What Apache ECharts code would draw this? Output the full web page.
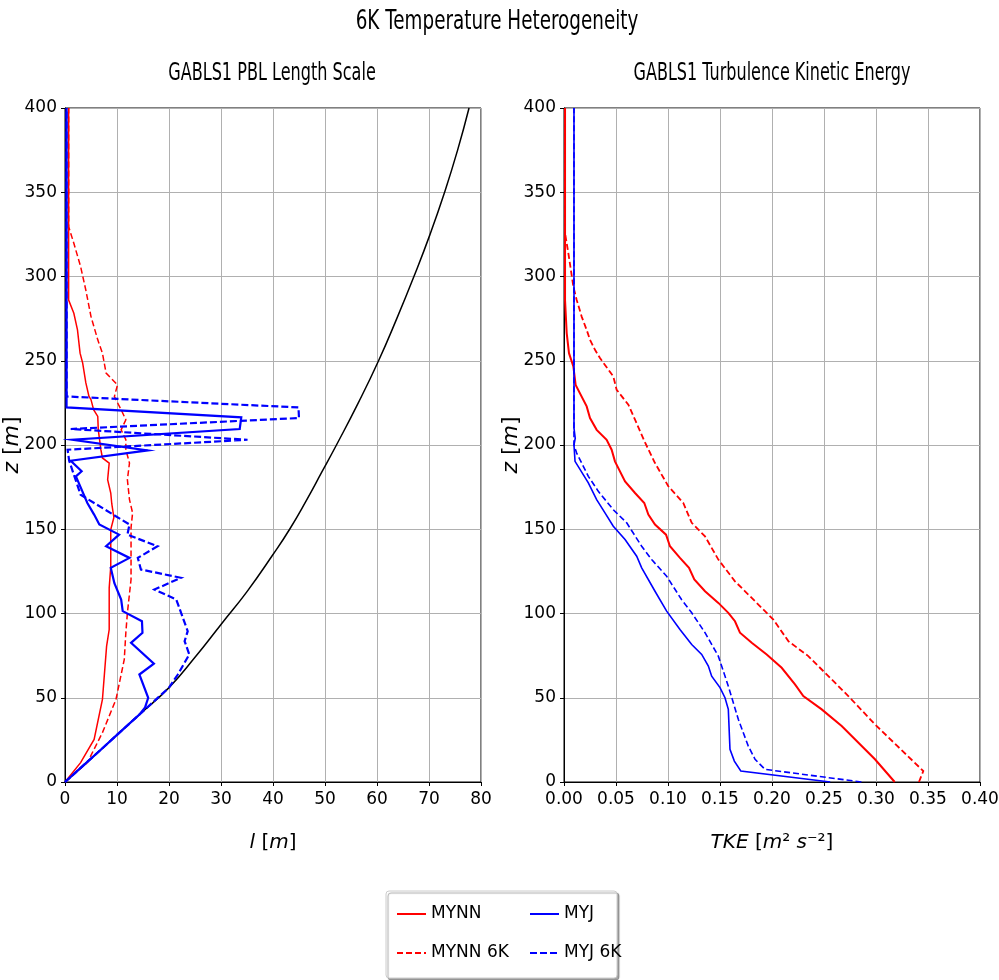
<!DOCTYPE html>
<html>
<head>
<meta charset="utf-8">
<script src="https://cdn.jsdelivr.net/npm/echarts@6/dist/echarts.min.js"></script>
<style>
html,body{margin:0;padding:0;background:#fff;overflow:hidden;}
#chart{width:999px;height:980px;}
</style>
</head>
<body>
<div id="chart"></div>
<script>
// ---------------- DATA ----------------
// Tick labels
const zTicks = [0, 50, 100, 150, 200, 250, 300, 350, 400];
const lTicks = [0, 10, 20, 30, 40, 50, 60, 70, 80];
const tkeTicks = [0.00, 0.05, 0.10, 0.15, 0.20, 0.25, 0.30, 0.35, 0.40];
const seriesNames = ['MYNN', 'MYNN 6K', 'MYJ', 'MYJ 6K'];

// Left panel: PBL length scale [l (m), z (m)]
const lenMYNN = [[0,0],[3.0,11.5],[5.6,25.3],[7.2,49],[8.0,80.6],[8.5,90.5],[8.5,115.2],[8.8,128],[8.8,141.9],[8.8,149.8],[9.4,157],[9.0,165],[8.8,171.5],[8.2,179.4],[8.5,189.3],[7.2,192.3],[6.9,197.2],[6.4,209],[6.3,217],[5.5,221],[5.0,226.9],[4.6,229],[4.0,237],[3.4,248.6],[2.9,254.5],[2.4,268.3],[1.7,278.2],[0.7,286],[0.7,400]];
const lenMYNN6K = [[0,0],[4.3,11.5],[7.2,29.3],[9.8,49],[11.4,72.7],[11.7,88.6],[12.0,100.4],[12.7,120.2],[12.7,141.9],[12.7,151],[13.0,159.7],[12.4,167.6],[12.0,179.4],[12.4,189.3],[11.7,197.2],[11.7,203.1],[10.8,209],[11.7,215],[10.8,220.9],[9.8,226.9],[9.5,228.8],[10.1,235.7],[7.9,242.7],[7.2,254.5],[6.3,262.4],[5.0,276.2],[4.0,292],[3.0,305.9],[1.7,319.7],[0.7,329.6],[0.7,400]];
const lenMYJ = [[0,0],[3.6,10],[7.2,20],[10,28],[14.3,40],[15.4,44.3],[16.0,50],[14.3,63.8],[17.1,70.2],[12.7,82.6],[14.9,88.6],[14.8,95.4],[11.1,101.4],[10.8,108.3],[9.5,118],[8.8,127.1],[12.4,133],[7.9,139.9],[10.4,146.8],[6.6,152.8],[5.6,158.7],[4.3,165.6],[2.1,181.4],[3.2,184.4],[1.1,190.7],[15.9,196.8],[1.5,203.1],[33.6,209.5],[33.9,216.4],[0.3,222.3],[0.3,400]];
const lenMYJ6K = [[0,0],[3.6,10],[7.2,20],[10,28],[14.3,40],[20,56],[21.7,63.8],[23.9,75.7],[23.0,83.6],[23.6,89.5],[21.4,108.3],[17.2,114.2],[22.3,121.2],[14.6,126.1],[14.0,133],[17.8,139.9],[12.0,146.8],[12.4,152.8],[3.0,170.5],[0.8,190.7],[0.5,197.2],[35.1,203.1],[1.1,209.5],[45.0,216],[44.9,222.3],[0.3,228.8],[0.3,400]];
const lenRef = [[0,0],[3.6,10],[7.2,20],[10,28],[14.3,40],[20,56],[25,74],[30,93.5],[35,113],[40,135],[43.2,150],[46.4,167],[49.4,184],[52.2,200],[56.4,225],[60.3,250],[63.8,275],[67.1,300],[70.2,325],[73.0,350],[75.5,375],[77.7,400]];

// Right panel: TKE [TKE (m2 s-2), z (m)]
const tkeMYNN = [[0.318,0],[0.299,13.5],[0.267,33.2],[0.2478,43.1],[0.2301,51],[0.2221,57.9],[0.2093,67.8],[0.1949,75.7],[0.1805,82.6],[0.1692,88.6],[0.1644,95.4],[0.158,100.4],[0.1484,106.3],[0.1356,113.2],[0.1253,120.2],[0.1202,127.1],[0.1115,133],[0.1019,139.9],[0.0981,146.8],[0.0875,152.8],[0.0811,158.7],[0.0772,165.6],[0.0683,171.5],[0.0587,178.4],[0.049,190.3],[0.0458,197.2],[0.041,203.1],[0.0314,209],[0.025,216],[0.0218,222.9],[0.0112,235.7],[0.009,246.6],[0.0048,254.5],[0.0026,266.4],[0.001,286],[0.001,400]];
const tkeMYNN6K = [[0.3413,0],[0.3455,6.5],[0.299,34.2],[0.2734,51],[0.251,64.8],[0.2349,74.7],[0.2157,83.6],[0.2013,96.4],[0.1837,107.3],[0.1644,119.1],[0.1484,132],[0.1356,145.8],[0.1228,153.8],[0.1147,165.6],[0.1003,175.5],[0.0875,189.3],[0.0779,201.5],[0.0683,215],[0.0619,223.9],[0.0506,232.8],[0.0474,240.7],[0.0346,251.6],[0.0298,256.5],[0.025,262.4],[0.0218,268.3],[0.017,276.2],[0.0122,286.1],[0.009,294],[0.0042,313.8],[0.001,325.7],[0.001,400]];
const tkeMYJ = [[0.256,0],[0.17,6.5],[0.1638,12.4],[0.1596,19.4],[0.158,43.1],[0.1548,50],[0.15,56],[0.142,62.8],[0.1388,68.8],[0.1324,75.7],[0.1228,81.6],[0.1115,90.5],[0.0987,101.4],[0.0875,113.2],[0.0747,127.1],[0.0699,134],[0.0587,143.9],[0.0474,151.8],[0.0394,159.7],[0.0314,167.6],[0.0234,177.5],[0.0106,190.3],[0.0096,200],[0.0108,204],[0.0096,210],[0.0096,400]];
const tkeMYJ6K = [[0.286,0],[0.1933,7.5],[0.1837,13.5],[0.1772,21.3],[0.1676,37.2],[0.158,56.9],[0.1484,74.7],[0.1356,88.6],[0.1228,100.4],[0.113,108.3],[0.0987,122.1],[0.0843,132],[0.0747,139.9],[0.0603,153.8],[0.0474,161.6],[0.033,172.5],[0.0234,181.4],[0.0122,195.2],[0.0096,200],[0.0096,400]];

// ---------------- STYLE ----------------
const FONT = "'DejaVu Sans', sans-serif";
const RED = '#ff0000', BLUE = '#0000ff';
const GRID_COLOR = '#b0b0b0';

const chart = echarts.init(document.getElementById('chart'), null, {renderer: 'canvas'});

const italicRich = {
  i: {fontStyle: 'italic', fontFamily: FONT, fontSize: 20, color: '#000'},
  n: {fontFamily: FONT, fontSize: 20, color: '#000'}
};
const italicRichY = {
  i: {fontStyle: 'italic', fontFamily: FONT, fontSize: 22, color: '#000'},
  n: {fontFamily: FONT, fontSize: 22, color: '#000'}
};

function xAxisCfg(gridIndex, ticks, nameText, fmt) {
  return {
    type: 'value', gridIndex, min: ticks[0], max: ticks[ticks.length - 1],
    interval: ticks[1] - ticks[0], position: 'bottom',
    name: nameText, nameLocation: 'middle', nameGap: 51, nameMoveOverlap: false,
    nameTextStyle: {fontFamily: FONT, fontSize: 20, color: '#000', rich: italicRich},
    axisLine: {show: true, onZero: false, lineStyle: {color: '#000', width: 1}},
    axisTick: {show: true, length: 4, inside: false, lineStyle: {color: '#000', width: 1}},
    splitLine: {show: true, lineStyle: {color: GRID_COLOR, width: 1}},
    axisLabel: {fontFamily: FONT, fontSize: 17, color: '#000', margin: 9, formatter: fmt,
      showMinLabel: true, showMaxLabel: true, hideOverlap: false}
  };
}
function yAxisCfg(gridIndex) {
  return {
    type: 'value', gridIndex, min: zTicks[0], max: zTicks[zTicks.length - 1], interval: zTicks[1] - zTicks[0],
    name: '{i|z} {n|[}{i|m}{n|]}', nameLocation: 'middle', nameGap: 42, nameRotate: 90, nameMoveOverlap: false,
    nameTextStyle: {fontFamily: FONT, fontSize: 22, color: '#000', rich: italicRichY},
    axisLine: {show: true, onZero: false, lineStyle: {color: '#000', width: 1}},
    axisTick: {show: true, length: 4, lineStyle: {color: '#000', width: 1}},
    splitLine: {show: true, lineStyle: {color: GRID_COLOR, width: 1}},
    axisLabel: {fontFamily: FONT, fontSize: 17, color: '#000', margin: 8,
      showMinLabel: true, showMaxLabel: true, hideOverlap: false}
  };
}

function lineSeries(name, data, xi, color, dashed, width, dash) {
  return {
    name, type: 'line', xAxisIndex: xi, yAxisIndex: xi, data,
    symbol: 'none', showSymbol: false, smooth: false, silent: true,
    lineStyle: {color, width, type: dashed ? dash : 'solid', cap: 'butt', join: 'miter'},
    itemStyle: {color},
    z: 3
  };
}

const legendCommon = {
  orient: 'vertical', itemWidth: 29, itemHeight: 14, itemGap: 19, top: 899,
  textStyle: {fontFamily: FONT, fontSize: 17, color: '#000', lineHeight: 20},
  itemStyle: {color: 'rgba(0,0,0,0)', borderWidth: 0, opacity: 0},
  selectedMode: false
};

const option = {
  animation: false,
  backgroundColor: '#ffffff',
  textStyle: {fontFamily: FONT},
  grid: [
    {left: 65, top: 108, width: 416, height: 674, show: true, borderColor: '#000', borderWidth: 1,
      containLabel: false, outerBoundsMode: 'none'},
    {left: 564, top: 108, width: 416, height: 674, show: true, borderColor: '#000', borderWidth: 1,
      containLabel: false, outerBoundsMode: 'none'}
  ],
  xAxis: [
    xAxisCfg(0, lTicks, '{i|l} {n|[}{i|m}{n|]}', v => String(v)),
    xAxisCfg(1, tkeTicks, '{i|TKE} {n|[}{i|m}{n|²} {i|s}{n|⁻²]}', v => v.toFixed(2))
  ],
  yAxis: [yAxisCfg(0), yAxisCfg(1)],
  legend: [
    Object.assign({}, legendCommon, {left: 391, data: [seriesNames[0], seriesNames[1]]}),
    Object.assign({}, legendCommon, {left: 524, data: [seriesNames[2], seriesNames[3]]})
  ],
  graphic: [
    {type: 'text', x: 497, y: 22, scaleX: 0.68, style: {text: '6K Temperature Heterogeneity', font: '27px ' + FONT, fill: '#000', textAlign: 'center', textVerticalAlign: 'middle'}},
    {type: 'text', x: 272, y: 74, scaleX: 0.67, style: {text: 'GABLS1 PBL Length Scale', font: '24px ' + FONT, fill: '#000', textAlign: 'center', textVerticalAlign: 'middle'}},
    {type: 'text', x: 772, y: 74, scaleX: 0.667, style: {text: 'GABLS1 Turbulence Kinetic Energy', font: '24px ' + FONT, fill: '#000', textAlign: 'center', textVerticalAlign: 'middle'}},
    {type: 'rect', z: -1, shape: {x: 386, y: 891, width: 231, height: 87, r: 3},
      style: {fill: '#ffffff', stroke: '#cccccc', lineWidth: 1, shadowColor: 'rgba(0,0,0,0.35)', shadowOffsetX: 2, shadowOffsetY: 2, shadowBlur: 1}}
  ],
  series: [
    {name: 'ref', type: 'line', xAxisIndex: 0, yAxisIndex: 0, data: lenRef, symbol: 'none', smooth: true, silent: true,
      lineStyle: {color: '#000', width: 1.5}, z: 2},
    lineSeries('MYNN', lenMYNN, 0, RED, false, 1.5),
    lineSeries('MYNN 6K', lenMYNN6K, 0, RED, true, 1.5, [6, 3]),
    lineSeries('MYJ', lenMYJ, 0, BLUE, false, 2.2),
    lineSeries('MYJ 6K', lenMYJ6K, 0, BLUE, true, 2.2, [7, 3]),
    lineSeries('MYNN', tkeMYNN, 1, RED, false, 2),
    lineSeries('MYNN 6K', tkeMYNN6K, 1, RED, true, 1.8, [6, 3]),
    lineSeries('MYJ', tkeMYJ, 1, BLUE, false, 1.6),
    lineSeries('MYJ 6K', tkeMYJ6K, 1, BLUE, true, 1.6, [6, 3])
  ]
};
chart.setOption(option);
</script>
</body>
</html>
